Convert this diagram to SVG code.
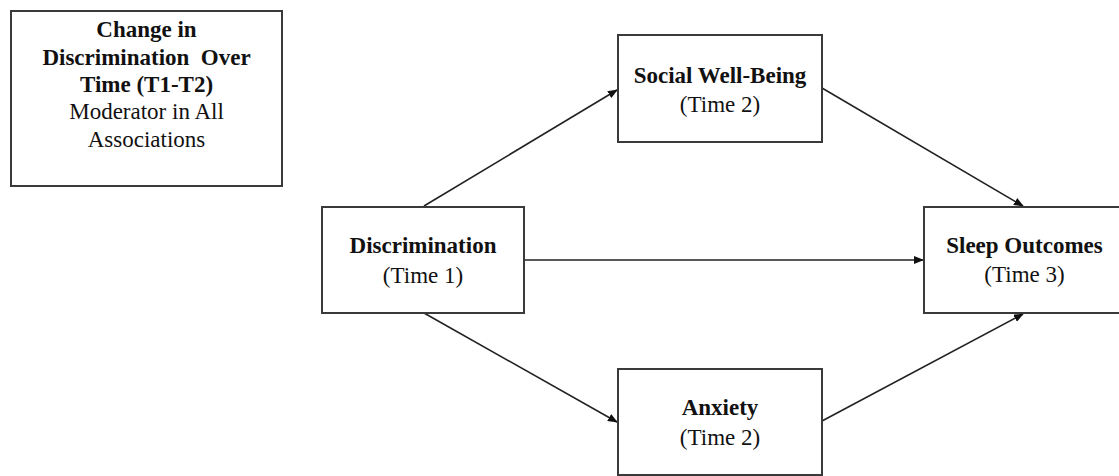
<svg xmlns="http://www.w3.org/2000/svg" width="1119" height="476" viewBox="0 0 1119 476">
<defs>
<style>
.box{fill:#fff;stroke:#3a3a3a;stroke-width:2}
.t{font-family:"Liberation Serif","Times New Roman",serif;font-size:23px;fill:#111;text-anchor:middle}
.b{font-weight:bold}
.c{stroke:#222;stroke-width:1.6;fill:none}
</style>
<marker id="ah" markerWidth="10" markerHeight="8" refX="9" refY="4" orient="auto" markerUnits="userSpaceOnUse">
<path d="M0,0 L10,4 L0,8 Z" fill="#111"/>
</marker>
</defs>
<rect width="1119" height="476" fill="#fff"/>
<g id="connectors">
<line class="c" x1="424" y1="206" x2="617" y2="90" marker-end="url(#ah)"/>
<line class="c" x1="822" y1="88" x2="1023" y2="206" marker-end="url(#ah)"/>
<line class="c" x1="524" y1="260" x2="923" y2="260" marker-end="url(#ah)"/>
<line class="c" x1="424" y1="313" x2="617" y2="422" marker-end="url(#ah)"/>
<line class="c" x1="822" y1="421" x2="1023" y2="314" marker-end="url(#ah)"/>
</g>
<g id="moderator">
<rect class="box" x="11" y="11" width="271" height="175"/>
<text class="t b" x="146.5" y="37">Change in</text>
<text class="t b" x="146.5" y="65" xml:space="preserve">Discrimination  Over</text>
<text class="t b" x="146.5" y="92">Time (T1-T2)</text>
<text class="t" x="146.5" y="119">Moderator in All</text>
<text class="t" x="146.5" y="147">Associations</text>
</g>
<g id="discrimination">
<rect class="box" x="322" y="207" width="202" height="106"/>
<text class="t b" x="423" y="253">Discrimination</text>
<text class="t" x="423" y="283">(Time 1)</text>
</g>
<g id="social">
<rect class="box" x="618" y="35" width="204" height="107"/>
<text class="t b" x="720" y="83">Social Well-Being</text>
<text class="t" x="720" y="112">(Time 2)</text>
</g>
<g id="sleep">
<rect class="box" x="924" y="207" width="201" height="106"/>
<text class="t b" x="1024.5" y="253">Sleep Outcomes</text>
<text class="t" x="1024.5" y="282">(Time 3)</text>
</g>
<g id="anxiety">
<rect class="box" x="618" y="369" width="204" height="106"/>
<text class="t b" x="720" y="415">Anxiety</text>
<text class="t" x="720" y="445">(Time 2)</text>
</g>
</svg>
